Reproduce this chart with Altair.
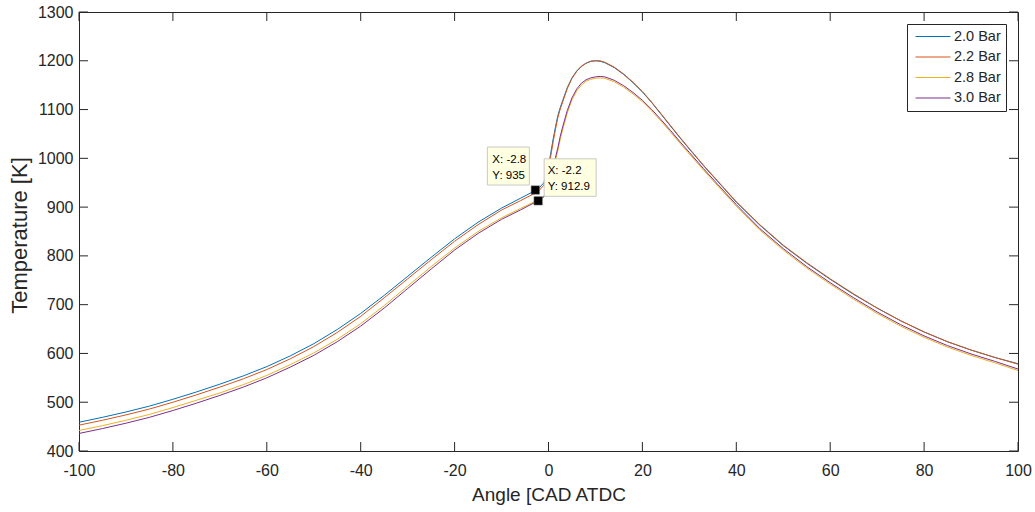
import altair as alt
import pandas as pd

# ---------------- data ----------------
angles = [-100, -95, -90, -85, -80, -75, -70, -65, -60, -55, -50, -45, -40, -35, -30, -25,
          -20, -15, -10, -6, -3, -2, -1, 0, 0.5, 1, 1.5, 2, 2.5, 3, 4, 5, 6, 7, 8, 9, 10,
          11, 12, 14, 16, 18, 20, 22, 24, 26, 28, 30, 33, 36, 40, 45, 50, 55, 60, 65, 70,
          75, 80, 85, 90, 95, 100]

temp_20 = [459, 469, 480, 492, 506, 521, 537, 554, 573, 595, 620, 649, 682, 719, 758, 797,
           835, 869, 898, 918, 933, 939, 950, 985, 1012, 1040, 1065, 1088, 1104, 1118, 1145,
           1165, 1179, 1189, 1195, 1199, 1200, 1199, 1196, 1186, 1172, 1155, 1136, 1114,
           1090, 1066, 1042, 1019, 985, 953, 910, 863, 821, 785, 752, 721, 693, 667, 644,
           624, 607, 592, 579]

temp_22 = [453, 463, 474, 486, 500, 515, 531, 548, 567, 589, 614, 643, 676, 714, 753, 792,
           830, 864, 894, 913, 928, 934, 945, 979, 1006, 1034, 1060, 1084, 1101, 1115, 1143,
           1164, 1178, 1188, 1195, 1199, 1200, 1200, 1197, 1187, 1173, 1156, 1137, 1115,
           1091, 1067, 1043, 1020, 986, 954, 911, 864, 822, 786, 753, 722, 693, 667, 644,
           624, 607, 592, 578]

temp_28 = [442, 452, 463, 475, 489, 504, 519, 536, 555, 577, 601, 629, 661, 698, 738, 778,
           816, 850, 878, 897, 911, 915, 922, 938, 955, 975, 996, 1016, 1039, 1058, 1093,
           1120, 1138, 1150, 1158, 1162, 1164, 1165, 1164, 1157, 1146, 1132, 1116, 1097,
           1076, 1054, 1031, 1009, 976, 944, 902, 853, 812, 775, 742, 711, 682, 656, 633,
           613, 596, 581, 565]

temp_30 = [436, 446, 457, 469, 483, 498, 514, 531, 550, 572, 596, 624, 656, 693, 733, 773,
           812, 846, 875, 894, 909, 913, 921, 940, 958, 980, 1002, 1022, 1045, 1064, 1098,
           1124, 1142, 1154, 1161, 1165, 1167, 1168, 1167, 1160, 1149, 1135, 1119, 1100,
           1079, 1057, 1034, 1012, 979, 947, 905, 856, 815, 778, 745, 714, 685, 659, 636,
           616, 599, 584, 568]

series_names = ["2.0 Bar", "2.2 Bar", "2.8 Bar", "3.0 Bar"]
series_colors = ["#0072BD", "#D95319", "#EDB120", "#7E2F8E"]

x_ticks = [-100, -80, -60, -40, -20, 0, 20, 40, 60, 80, 100]
y_ticks = [400, 500, 600, 700, 800, 900, 1000, 1100, 1200, 1300]

tip_x = [-2.8, -2.2]
tip_y = [935, 912.9]
tip_y_text = ["935", "912.9"]

X_MIN, X_MAX, Y_MIN, Y_MAX = -100, 100, 400, 1300
TICK_X_LEN = 1.92    # ~9 px in angle units
TICK_Y_LEN = 18.4    # ~9 px in kelvin units

# ---------------- frames ----------------
rows = []
for name, vals in zip(series_names, [temp_20, temp_22, temp_28, temp_30]):
    for a, t in zip(angles, vals):
        rows.append({"angle": a, "temp": t, "series": name})
df = pd.DataFrame(rows)

tips = pd.DataFrame({
    "angle": tip_x,
    "temp": tip_y,
    "idx": [0, 1],
    "lx": [f"X: {v}" for v in tip_x],
    "ly": [f"Y: {v}" for v in tip_y_text],
})
xt_df = pd.DataFrame({"angle": x_ticks})
yt_df = pd.DataFrame({"temp": y_ticks})

FONT = "Liberation Sans"
AX = "#262626"

x_scale = alt.Scale(domain=[X_MIN, X_MAX], nice=False, zero=False)
y_scale = alt.Scale(domain=[Y_MIN, Y_MAX], nice=False, zero=False)

x_axis = alt.Axis(values=x_ticks, title="Angle [CAD ATDC", labelPadding=11,
                  labelFlush=False, labelExpr="'' + datum.value",
                  titleY=49, titleBaseline="alphabetic", titleFontSize=19)
y_axis = alt.Axis(values=y_ticks, title="Temperature [K]", labelPadding=6,
                  labelExpr="'' + datum.value",
                  titleX=-53, titleY=223, titleBaseline="alphabetic", titleFontSize=22)

lines = alt.Chart(df).mark_line(strokeWidth=1, clip=True).encode(
    x=alt.X("angle:Q", scale=x_scale, axis=x_axis),
    y=alt.Y("temp:Q", scale=y_scale, axis=y_axis),
    color=alt.Color("series:N",
                    scale=alt.Scale(domain=series_names, range=series_colors),
                    sort=series_names,
                    legend=alt.Legend(title=None, orient="none", legendX=828, legendY=12,
                                      symbolType="stroke", symbolSize=1225,
                                      symbolStrokeWidth=1, clipHeight=16, rowPadding=4.5,
                                      padding=4.5, symbolOffset=3.5, labelOffset=3,
                                      labelFontSize=14.5, labelFont=FONT, labelColor=AX,
                                      strokeColor=AX, fillColor="white")),
)

tick_b = alt.Chart(xt_df).mark_rule(color=AX, strokeWidth=1).encode(
    x=alt.X("angle:Q", scale=x_scale, axis=x_axis),
    y=alt.datum(Y_MIN), y2=alt.datum(Y_MIN + TICK_Y_LEN))
tick_t = alt.Chart(xt_df).mark_rule(color=AX, strokeWidth=1).encode(
    x=alt.X("angle:Q", scale=x_scale, axis=x_axis),
    y=alt.datum(Y_MAX), y2=alt.datum(Y_MAX - TICK_Y_LEN))
tick_l = alt.Chart(yt_df).mark_rule(color=AX, strokeWidth=1).encode(
    y=alt.Y("temp:Q", scale=y_scale, axis=y_axis),
    x=alt.datum(X_MIN), x2=alt.datum(X_MIN + TICK_X_LEN))
tick_r = alt.Chart(yt_df).mark_rule(color=AX, strokeWidth=1).encode(
    y=alt.Y("temp:Q", scale=y_scale, axis=y_axis),
    x=alt.datum(X_MAX), x2=alt.datum(X_MAX - TICK_X_LEN))

base_tip = alt.Chart(tips).encode(
    x=alt.X("angle:Q", scale=x_scale, axis=x_axis),
    y=alt.Y("temp:Q", scale=y_scale, axis=y_axis),
)
markers = base_tip.mark_square(size=72, filled=True, color="black", stroke="#808080",
                               strokeWidth=0.5, opacity=1)

tip1 = base_tip.transform_filter(alt.datum.idx == 0)
tip2 = base_tip.transform_filter(alt.datum.idx == 1)
enc2 = dict(x2=alt.X2("angle:Q"), y2=alt.Y2("temp:Q"))
box1 = tip1.mark_rect(fill="#FFFFE1", stroke="#C8C8C8", strokeWidth=1,
                      xOffset=-48, x2Offset=-6, yOffset=-43, y2Offset=-5).encode(**enc2)
box2 = tip2.mark_rect(fill="#FFFFE1", stroke="#C8C8C8", strokeWidth=1,
                      xOffset=6, x2Offset=58, yOffset=-42, y2Offset=-4.5).encode(**enc2)
tfont = dict(font=FONT, fontSize=11.5, color="black", align="left", baseline="alphabetic")
t1a = tip1.mark_text(dx=-43, dy=-27, **tfont).encode(text="lx:N")
t1b = tip1.mark_text(dx=-43, dy=-11.5, **tfont).encode(text="ly:N")
t2a = tip2.mark_text(dx=9.5, dy=-27.3, **tfont).encode(text="lx:N")
t2b = tip2.mark_text(dx=9.5, dy=-10.8, **tfont).encode(text="ly:N")

chart = alt.layer(
    lines, tick_b, tick_t, tick_l, tick_r, box1, box2, markers, t1a, t1b, t2a, t2b
).properties(
    width=939, height=439,
    padding={"left": 79, "top": 12, "right": 17, "bottom": 61},
    autosize=alt.AutoSizeParams(type="none"),
    background="white",
).configure_view(
    stroke=AX, strokeWidth=1
).configure_axis(
    domain=False, ticks=False, tickSize=0, grid=False,
    labelFont=FONT, labelFontSize=16, labelColor=AX,
    titleFont=FONT, titleFontWeight="normal", titleColor=AX,
)

chart.save("out.html", embed_options={"renderer": "svg", "actions": False})
